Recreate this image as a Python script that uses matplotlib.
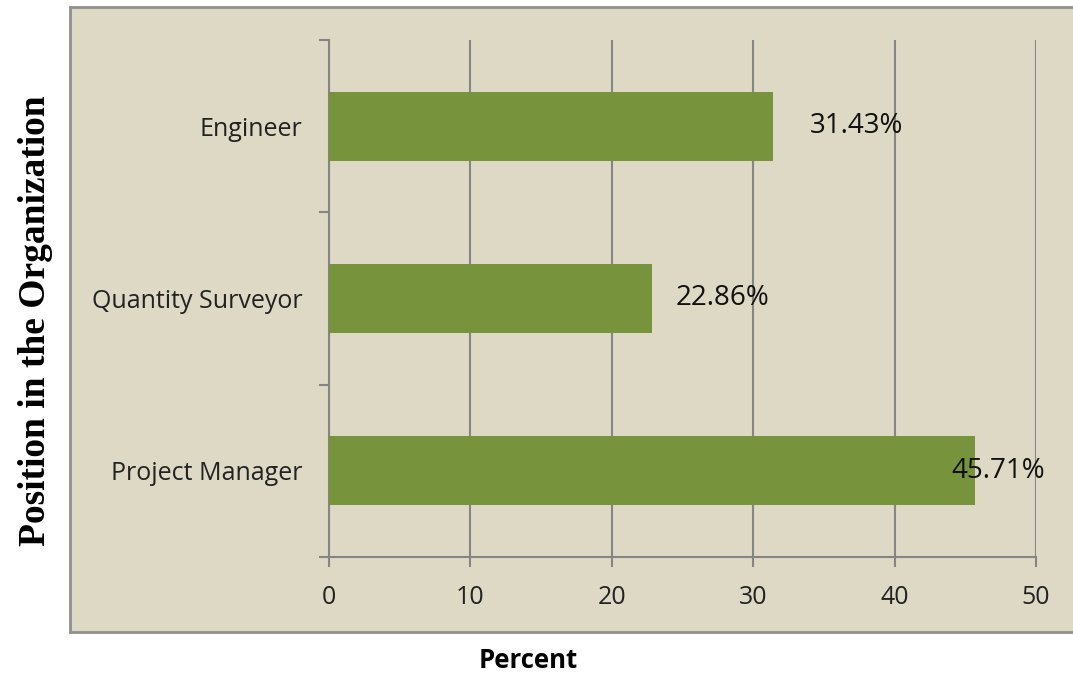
import matplotlib
matplotlib.use("Agg")
from matplotlib import pyplot as plt
from matplotlib.patches import Rectangle

# Data
positions = ["Project Manager", "Quantity Surveyor", "Engineer"]
percents = [45.71, 22.86, 31.43]
valueLabels = ["45.71%", "22.86%", "31.43%"]
xTicks = [0, 10, 20, 30, 40, 50]

# Label centres (data units)
labelX = [47.3, 27.8, 37.3]

beige = "#DDD9C4"
gridGray = "#858585"
barGreen = "#77933C"

fig = plt.figure(figsize=(10.73, 6.77), dpi=100)
fig.patch.set_facecolor("white")

# Chart area box behind the plot
box = Rectangle((0.0652, 0.066), 0.96, 0.923, transform=fig.transFigure,
                facecolor=beige, edgecolor="#8F8F8F", linewidth=2, zorder=-1)
fig.patches.append(box)

ax = fig.add_axes([0.3066, 0.1773, 0.6589, 0.7637])
ax.set_facecolor("none")
ax.set_zorder(2)

y = range(len(positions))
ax.barh(y, percents, height=0.4, color=barGreen, zorder=3)

for i in y:
    ax.text(labelX[i], i, valueLabels[i], ha="center", va="center",
            fontsize=20, family="Open Sans", color="#111111", zorder=4)

ax.set_xlim(0, 50)
ax.set_ylim(-0.5, 2.5)
ax.set_xticks(xTicks)
ax.set_yticks(y)
ax.set_yticklabels(positions)
ax.set_yticks([-0.5, 0.5, 1.5, 2.5], minor=True)
ax.tick_params(axis="y", which="major", length=0, pad=19)
ax.tick_params(axis="y", which="minor", length=7, color=gridGray, width=1.5)
ax.tick_params(axis="x", length=7, color=gridGray, width=1.5, pad=13)

for lab in ax.get_xticklabels() + ax.get_yticklabels():
    lab.set_fontfamily("Open Sans")
    lab.set_fontsize(18)
    lab.set_color("#222222")

ax.xaxis.grid(True, color=gridGray, linewidth=1.5, zorder=1)
ax.set_axisbelow(True)

for side in ["top", "right"]:
    ax.spines[side].set_visible(False)
for side in ["left", "bottom"]:
    ax.spines[side].set_color(gridGray)
    ax.spines[side].set_linewidth(1.5)

fig.text(0.492, 0.025, "Percent", ha="center", va="center",
         fontsize=18.5, fontweight="bold", family="Open Sans")
fig.text(0.033, 0.527, "Position in the Organization", ha="center", va="center",
         rotation=90, fontsize=27, fontweight="bold", family="Liberation Serif")

fig.savefig("out.png", dpi=100)
